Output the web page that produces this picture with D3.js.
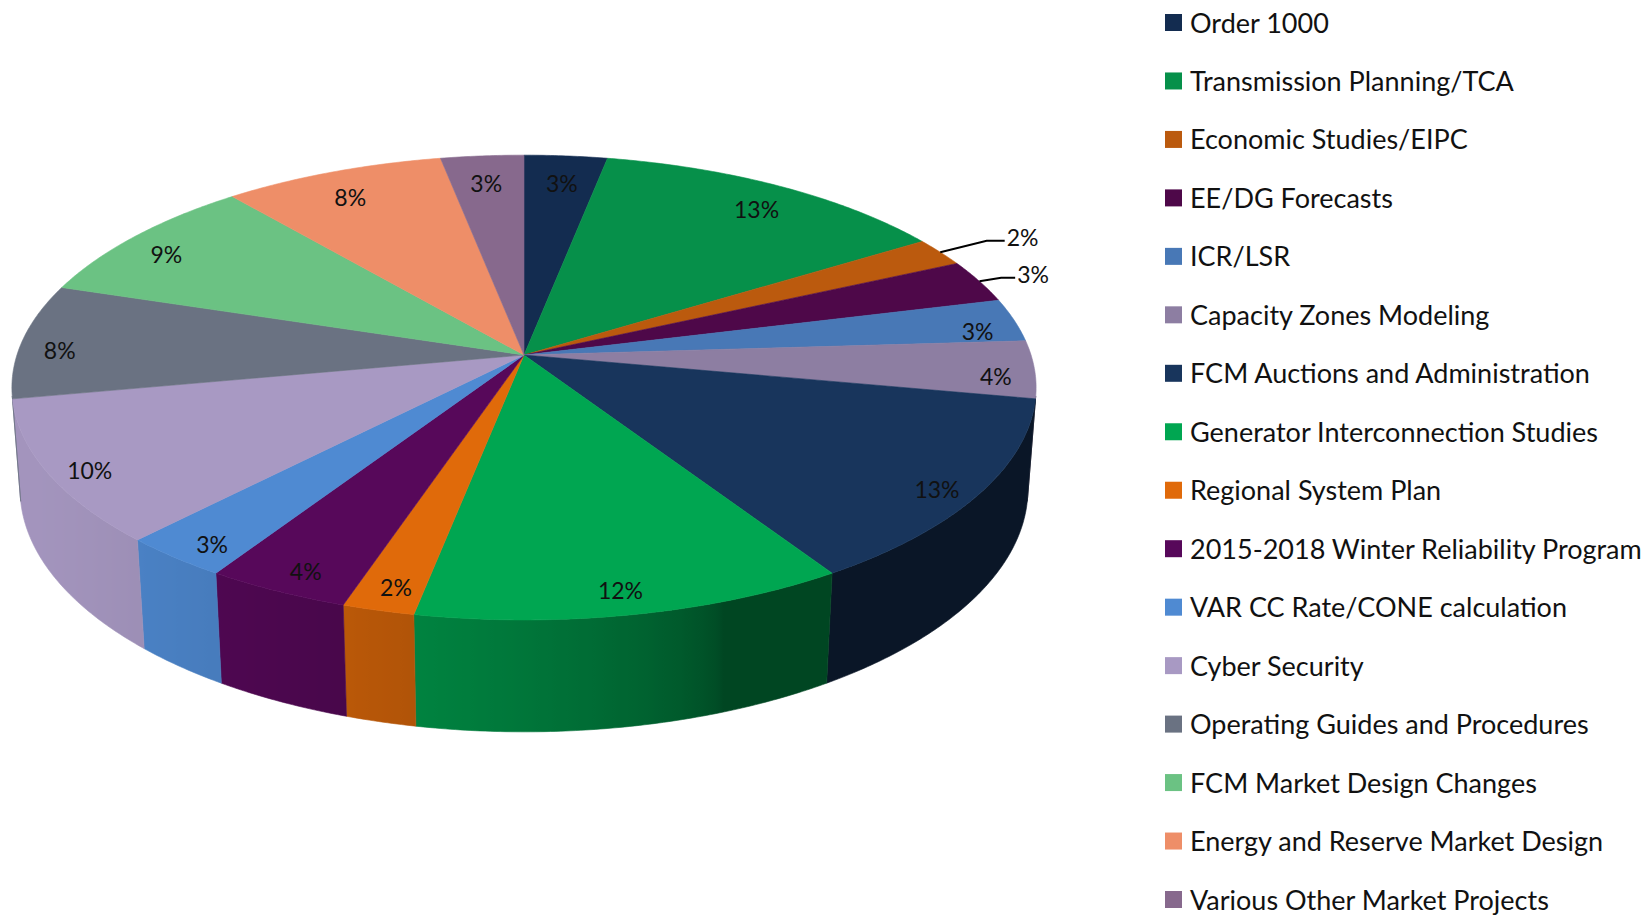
<!DOCTYPE html>
<html>
<head>
<meta charset="utf-8">
<script src="https://cdn.jsdelivr.net/npm/d3@7"></script>
<style>
  body { margin: 0; background: #ffffff; }
  text { font-family: Lato, "Open Sans", sans-serif; fill: #111; }
</style>
</head>
<body>
<svg id="chart" width="1650" height="916"></svg>
<script>
// Work areas and their share of effort (%), clockwise from 12 o'clock
const categories = [
  "Order 1000",
  "Transmission Planning/TCA",
  "Economic Studies/EIPC",
  "EE/DG Forecasts",
  "ICR/LSR",
  "Capacity Zones Modeling",
  "FCM Auctions and Administration",
  "Generator Interconnection Studies",
  "Regional System Plan",
  "2015-2018 Winter Reliability Program",
  "VAR CC Rate/CONE calculation",
  "Cyber Security",
  "Operating Guides and Procedures",
  "FCM Market Design Changes",
  "Energy and Reserve Market Design",
  "Various Other Market Projects"
];
const shares = [3, 13, 2, 3, 3, 4, 13, 12, 2, 4, 3, 10, 8, 9, 8, 3];
const colors = [
  "#132c50", "#06904a", "#bb5a0e", "#4e0849", "#4878b6", "#8d7ea2",
  "#18355c", "#00a651", "#e06a0a", "#57085a", "#4f8ad2", "#a899c3",
  "#6a7282", "#6bc283", "#ee8e68", "#87698d"
];
const valueLabels = shares.map(v => v + "%");

const svg = d3.select("#chart");
svg.append("rect").attr("width", 1650).attr("height", 916).attr("fill", "#fff");
const defs = svg.append("defs");

// Perspective view of a disc of unit radius
const view = {
  cx: 524, cy: 355,
  tilt: 26.7 * Math.PI / 180,
  dist: 6.38,
  focal: 3235,
  thickness: 0.2257
};
const sT = Math.sin(view.tilt), cT = Math.cos(view.tilt);
function project(r, a, yUp) {
  const x = r * Math.sin(a), z = r * Math.cos(a);
  const depth = view.dist + z * cT - yUp * sT;
  return [view.cx + view.focal * x / depth,
          view.cy - view.focal * (yUp * cT + z * sT) / depth];
}

const arcs = d3.pie().sort(null).value(d => d)(shares)
  .map((d, i) => ({ ...d, i, mid: (d.startAngle + d.endAngle) / 2 }));

const step = Math.PI / 360;
function sampleAngles(a0, a1) {
  const n = Math.max(1, Math.ceil((a1 - a0) / step));
  return d3.range(n + 1).map(k => a0 + (a1 - a0) * k / n);
}

// outer wall: only the part that faces the viewer, lit from the front-left
const limb = Math.acos(-1 / (view.dist * cT));
const visLo = limb, visHi = 2 * Math.PI - limb;
const lightDir = 250 * Math.PI / 180;
function shade(color, a) {
  const f = 0.42 + 0.55 * Math.pow(Math.max(0, Math.cos(a - lightDir)), 0.6);
  const c = d3.rgb(color);
  return d3.rgb(c.r * f, c.g * f, c.b * f).formatHex();
}

const poly = d3.line();
const walls = arcs.map(d => {
  const lo = Math.max(d.startAngle, visLo), hi = Math.min(d.endAngle, visHi);
  if (hi <= lo) return null;
  const angles = sampleAngles(lo, hi);
  const top = angles.map(a => project(1, a, 0));
  const bottom = angles.map(a => project(1, a, -view.thickness)).reverse();
  const x1 = top[0][0], x2 = top[top.length - 1][0];
  const stops = angles.map((a, k) => ({
    offset: (top[k][0] - x1) / (x2 - x1),
    color: shade(colors[d.i], a)
  }));
  return { i: d.i, pts: top.concat(bottom), x1, x2, stops };
}).filter(Boolean);

const grads = defs.selectAll("linearGradient").data(walls).join("linearGradient")
  .attr("id", w => "wall" + w.i)
  .attr("gradientUnits", "userSpaceOnUse")
  .attr("x1", w => w.x1).attr("x2", w => w.x2)
  .attr("y1", 0).attr("y2", 0);
grads.selectAll("stop").data(w => w.stops).join("stop")
  .attr("offset", s => Math.max(0, Math.min(1, s.offset)))
  .attr("stop-color", s => s.color);

svg.append("g").attr("class", "walls")
  .selectAll("path").data(walls).join("path")
  .attr("d", w => poly(w.pts) + "Z")
  .attr("fill", w => `url(#wall${w.i})`)
  .attr("stroke", w => `url(#wall${w.i})`)
  .attr("stroke-width", 0.6);

// top faces
const apex = project(0, 0, 0);
svg.append("g").attr("class", "tops")
  .selectAll("path").data(arcs).join("path")
  .attr("d", d => poly([apex, ...sampleAngles(d.startAngle, d.endAngle).map(a => project(1, a, 0))]) + "Z")
  .attr("fill", d => colors[d.i])
  .attr("stroke", d => colors[d.i])
  .attr("stroke-width", 0.6);

// value labels; the two thin slices on the upper right get leader lines
const leader = { 2: { r: 1.12, run: 18 }, 3: { r: 1.05, run: 14 } };
const labelG = svg.append("g").attr("class", "labels");
arcs.forEach(d => {
  if (leader[d.i]) {
    const p0 = project(1.0, d.mid, 0);
    const p1 = project(leader[d.i].r, d.mid, 0);
    const p2 = [p1[0] + leader[d.i].run, p1[1]];
    labelG.append("path")
      .attr("d", poly([p0, p1, p2]))
      .attr("fill", "none").attr("stroke", "#000").attr("stroke-width", 2);
    labelG.append("text")
      .attr("x", p2[0] + 2).attr("y", p2[1] - 4)
      .attr("dominant-baseline", "central")
      .attr("font-size", 23)
      .text(valueLabels[d.i]);
  } else {
    const s = Math.sin(d.mid);
    const p = project(0.89 + 0.035 * s * s, d.mid, 0);
    labelG.append("text")
      .attr("x", p[0]).attr("y", p[1] + 8)
      .attr("text-anchor", "middle")
      .attr("dominant-baseline", "central")
      .attr("font-size", 23)
      .text(valueLabels[d.i]);
  }
});

// legend
const legendY = d3.scalePoint().domain(d3.range(categories.length)).range([22, 899]);
const legend = svg.append("g").attr("class", "legend")
  .selectAll("g").data(categories).join("g")
  .attr("transform", (d, i) => `translate(1165,${legendY(i)})`);
legend.append("rect")
  .attr("x", 0).attr("y", -8).attr("width", 17).attr("height", 17)
  .attr("fill", (d, i) => colors[i]);
legend.append("text")
  .attr("x", 25).attr("y", 0)
  .attr("dominant-baseline", "central")
  .attr("font-size", 27)
  .text(d => d);
</script>
</body>
</html>
